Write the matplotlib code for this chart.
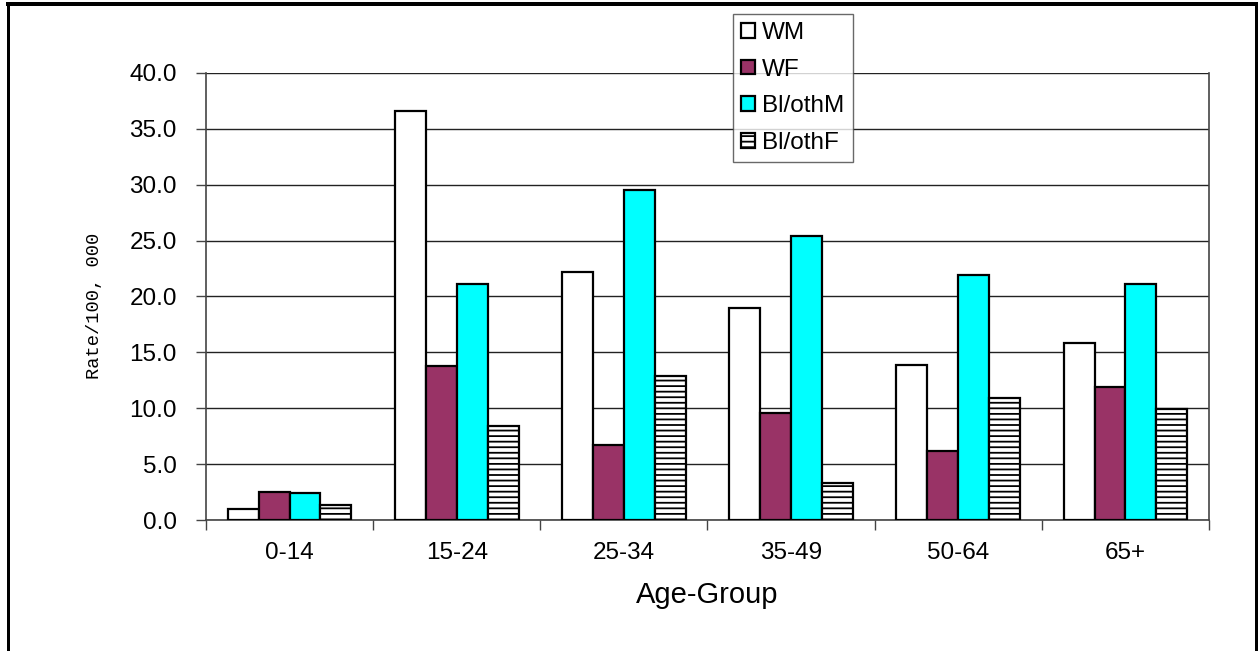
import numpy as np
import matplotlib
matplotlib.use("Agg")
import matplotlib.pyplot as plt
from matplotlib.lines import Line2D

# Rates per 100,000 by age group
age_groups = ["0-14", "15-24", "25-34", "35-49", "50-64", "65+"]
wm = [1.0, 36.6, 22.2, 19.0, 13.9, 15.8]
wf = [2.5, 13.8, 6.7, 9.6, 6.2, 11.9]
bl_m = [2.4, 21.1, 29.5, 25.4, 21.9, 21.1]
bl_f = [1.3, 8.4, 12.9, 3.3, 10.9, 9.9]

series = [
    ("WM", wm, "white", ""),
    ("WF", wf, "#993366", ""),
    ("Bl/othM", bl_m, "#00FFFF", ""),
    ("Bl/othF", bl_f, "white", "---"),
]

plt.rcParams["font.family"] = ["Liberation Sans", "DejaVu Sans"]
plt.rcParams["hatch.linewidth"] = 1.3
plt.rcParams["hatch.color"] = "#222222"

fig = plt.figure(figsize=(12.59, 6.51), dpi=100)
ax = fig.add_axes([0.1636, 0.2012, 0.7967, 0.6867])

x = np.arange(len(age_groups))
w = 0.185
handles = []
for i, (name, vals, col, hatch) in enumerate(series):
    bars = ax.bar(x + (i - 1.5) * w, vals, width=w, color=col, edgecolor="black",
                  linewidth=1.6, hatch=hatch, label=name, zorder=3)
    handles.append(bars)

ax.set_xlim(-0.5, len(age_groups) - 0.5)
ax.set_ylim(0, 40)
ax.set_yticks(np.arange(0, 40.1, 5))
ax.set_yticklabels([f"{v:.1f}" for v in np.arange(0, 40.1, 5)], fontsize=17.5)
ax.yaxis.grid(True, color="#222222", linewidth=1.0, zorder=0)

# category labels in the middle, tick marks between groups
ax.set_xticks(np.arange(-0.5, len(age_groups), 1.0))
ax.set_xticklabels([])
ax.set_xticks(x, minor=True)
ax.set_xticklabels(age_groups, minor=True, fontsize=17.5)
ax.tick_params(axis="x", which="minor", length=0, pad=16)
ax.tick_params(axis="x", which="major", length=7, width=1, color="#444444", direction="out")
ax.tick_params(axis="y", length=7, width=1, color="#444444", pad=14)

for side in ["left", "bottom", "right"]:
    ax.spines[side].set_color("#444444")
    ax.spines[side].set_linewidth(1.2)
ax.spines["top"].set_visible(False)

ax.set_xlabel("Age-Group", fontsize=21, labelpad=12)
ax.set_ylabel("Rate/100, 000", fontsize=13.5, family="Liberation Mono")
ax.yaxis.set_label_coords(-0.103, 0.48)

leg = fig.legend(handles=handles, loc="upper left", bbox_to_anchor=(0.582, 0.979),
                 fontsize=17.5, frameon=True, fancybox=False, edgecolor="#444444",
                 handlelength=0.55, handleheight=0.55, handletextpad=0.3,
                 labelspacing=0.6, borderpad=0.35, borderaxespad=0)
leg.get_frame().set_linewidth(1.0)

# outer frame around the chart
for xs, ys, lw in [([0.0064, 0.9976], [0.9945, 0.9945], 4),
                   ([0.0064, 0.0064], [0.0, 0.9945], 3),
                   ([0.9976, 0.9976], [0.0, 0.9945], 3)]:
    fig.add_artist(Line2D(xs, ys, color="black", linewidth=lw * 0.72,
                          transform=fig.transFigure))

fig.savefig("out.png", dpi=100)
